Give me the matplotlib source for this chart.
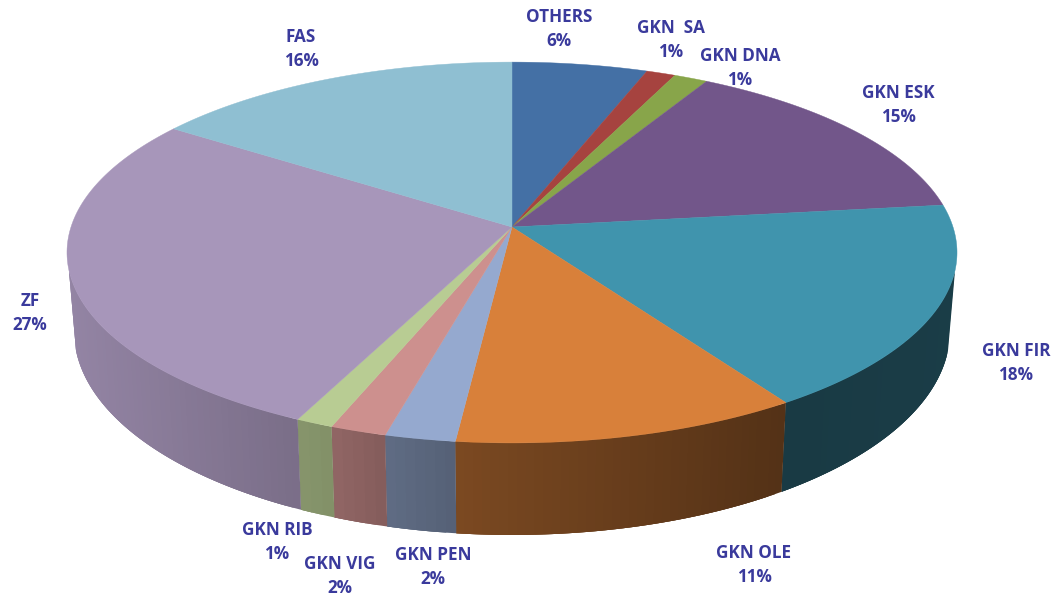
import numpy as np
import matplotlib
matplotlib.use("Agg")
import matplotlib.pyplot as plt
from matplotlib.collections import PolyCollection
from matplotlib.colors import to_rgb

# ---------------------------------------------------------
# DATA
# ---------------------------------------------------------
names = ["OTHERS", "GKN  SA", "GKN DNA", "GKN ESK", "GKN FIR", "GKN OLE",
         "GKN PEN", "GKN VIG", "GKN RIB", "ZF", "FAS"]
shares = [5.6, 1.2, 1.4, 14.9, 17.6, 11.075, 2.25, 1.8, 1.2, 27.525, 15.45]
pct_labels = ["6%", "1%", "1%", "15%", "18%", "11%", "2%", "2%", "1%", "27%", "16%"]
colors = ["#4470A5", "#A6433F", "#88A54A", "#72568A", "#4094AD", "#D8803A",
          "#95A9CF", "#CD908E", "#B8CC93", "#A796BA", "#8FBFD2"]
label_x = [559, 671, 740, 898, 1016, 754, 433, 340, 277, 30, 301]
label_y = [29, 40, 68, 105, 363, 565, 567, 576, 542, 313, 49]

# perspective of the disc, in pixels
k = 0.134
cx = 512
top_a, top_b, top_y = 441, 187, 227
bot_a, bot_b, bot_y = 434, 200, 304
wall_start, wall_end = np.radians(103), np.radians(257)

# wall brightness along the picture width
shade_x = [70, 300, 340, 385, 456, 780, 950]
shade_f = [0.88, 0.73, 0.70, 0.64, 0.57, 0.39, 0.41]


def project(theta, a, b, y0):
    u, v = np.sin(theta), np.cos(theta)
    w = 1 + k * v
    return cx + a * u / w, y0 - b * v / w


edges = 2 * np.pi * np.concatenate([[0], np.cumsum(shares)]) / np.sum(shares)

fig = plt.figure(figsize=(10.55, 5.97), dpi=100)
ax = fig.add_axes([0, 0, 1, 1])
ax.set_xlim(0, 1055)
ax.set_ylim(597, 0)
ax.axis("off")

# ---------------------------------------------------------
# SIDE WALL
# ---------------------------------------------------------
for i in range(len(shares)):
    lo, hi = max(edges[i], wall_start), min(edges[i + 1], wall_end)
    if hi <= lo:
        continue
    t = np.linspace(lo, hi, max(3, int((hi - lo) * 60)))
    xt, yt = project(t, top_a, top_b, top_y)
    xb, yb = project(t, bot_a, bot_b, bot_y)
    base = np.array(to_rgb(colors[i]))
    quads, quad_colors = [], []
    # each strip runs over the next one so no seams show
    for j in range(len(t) - 1):
        e = min(j + 3, len(t) - 1)
        outline = list(zip(xt[j:e + 1], yt[j:e + 1])) + list(zip(xb[j:e + 1][::-1], yb[j:e + 1][::-1]))
        quads.append(outline)
        quad_colors.append(base * np.interp((xt[j] + xt[j + 1]) / 2, shade_x, shade_f))
    ax.add_collection(PolyCollection(quads, facecolors=quad_colors, edgecolors="none"))

# ---------------------------------------------------------
# TOP FACE
# ---------------------------------------------------------
for i in range(len(shares)):
    t = np.linspace(edges[i], edges[i + 1], 120)
    xs, ys = project(t, top_a, top_b, top_y)
    ax.fill(np.r_[cx, xs], np.r_[top_y, ys], color=colors[i], lw=0.3)

for i in range(len(names)):
    ax.text(label_x[i], label_y[i], names[i] + "\n" + pct_labels[i], ha="center", va="center",
            fontsize=12.3, family="Open Sans", fontweight="bold", color="#3A3A9C", linespacing=1.36)

fig.savefig("out.png", dpi=100)
